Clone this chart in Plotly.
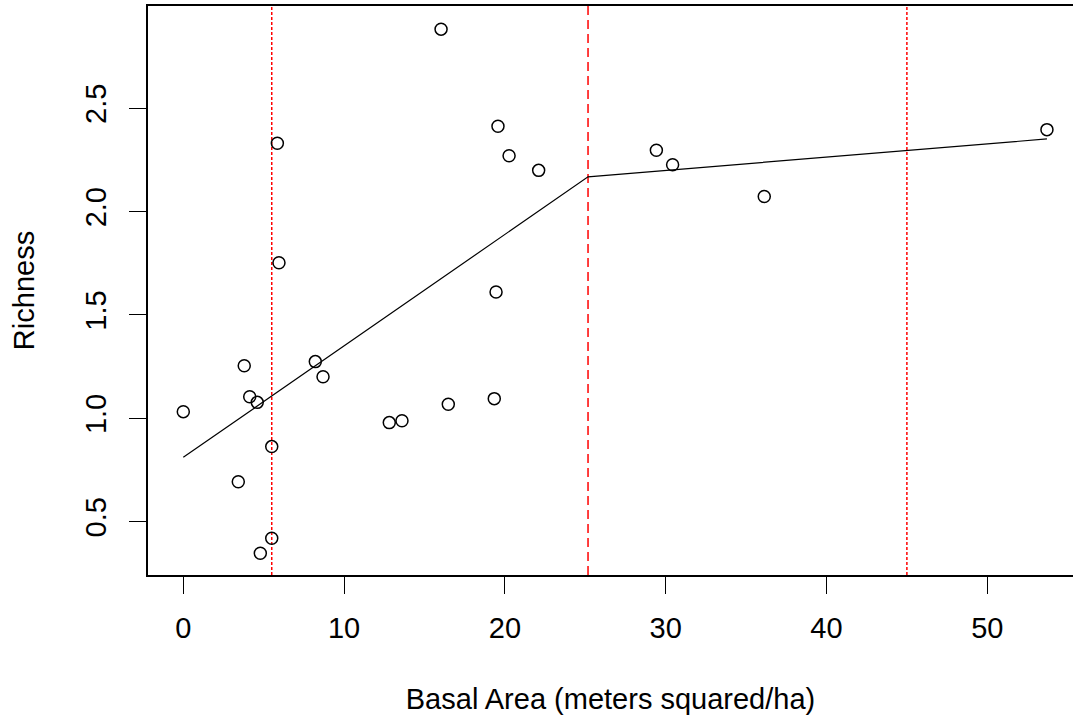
import plotly.graph_objects as go

# Data
basal_area = [0, 3.42, 3.79, 4.13, 4.6, 4.79, 5.5, 5.5, 5.85, 5.95, 8.21, 8.69,
              12.81, 13.6, 16.03, 16.48, 19.34, 19.45, 19.57, 20.26, 22.1,
              29.42, 30.43, 36.13, 53.71]
richness = [1.032, 0.693, 1.254, 1.104, 1.077, 0.347, 0.863, 0.42, 2.33, 1.752,
            1.274, 1.201, 0.979, 0.988, 2.882, 1.068, 1.095, 1.611, 2.412, 2.27,
            2.199, 2.296, 2.226, 2.073, 2.396]

# Segmented fit
fit_x = [0, 25.17, 53.71]
fit_y = [0.811, 2.168, 2.351]

# Vertical reference lines (x position, dash style)
vline_x = [5.5, 25.17, 45.0]
vline_dash = ["3px,2px", "9px,5px", "3px,2px"]

x_ticks = [0, 10, 20, 30, 40, 50]
y_ticks = [0.5, 1.0, 1.5, 2.0, 2.5]

FONT = "Liberation Sans, Arial, sans-serif"

fig = go.Figure()

for xv, dash in zip(vline_x, vline_dash):
    fig.add_shape(type="line", xref="x", yref="paper", x0=xv, x1=xv, y0=0, y1=1,
                  line=dict(color="#ff0000", width=1.5, dash=dash), layer="below")

fig.add_trace(go.Scatter(x=fit_x, y=fit_y, mode="lines",
                         line=dict(color="black", width=1.2), showlegend=False))
fig.add_trace(go.Scatter(x=basal_area, y=richness, mode="markers",
                         marker=dict(symbol="circle-open", size=12, color="black",
                                     line=dict(width=1.5, color="black")),
                         showlegend=False))

fig.update_layout(
    width=1073, height=721,
    margin=dict(l=148, r=0, t=6, b=146),
    paper_bgcolor="white", plot_bgcolor="white",
    font=dict(family=FONT, size=29, color="black"),
    showlegend=False,
)

fig.update_xaxes(
    range=[-2.195, 55.33], tickvals=x_ticks, ticks="outside", ticklen=17,
    tickwidth=1.2, tickcolor="black", showline=True, linecolor="black", linewidth=1.5,
    mirror=True, showgrid=False, zeroline=False, ticklabelstandoff=9,
    title=dict(text="Basal Area (meters squared/ha)", standoff=46,
               font=dict(family=FONT, size=29)),
)
fig.update_yaxes(
    range=[0.242, 2.994], tickvals=y_ticks, tickformat=".1f", tickangle=-90,
    ticks="outside", ticklen=17, tickwidth=1.2, tickcolor="black",
    showline=True, linecolor="black", linewidth=1.5, mirror=False,
    showgrid=False, zeroline=False, ticklabelstandoff=12,
    title=dict(text="Richness", standoff=37, font=dict(family=FONT, size=29)),
)

fig.write_html("out.html", config={"displayModeBar": False},
               post_script="document.body.style.margin='0';document.body.style.overflow='hidden';")
